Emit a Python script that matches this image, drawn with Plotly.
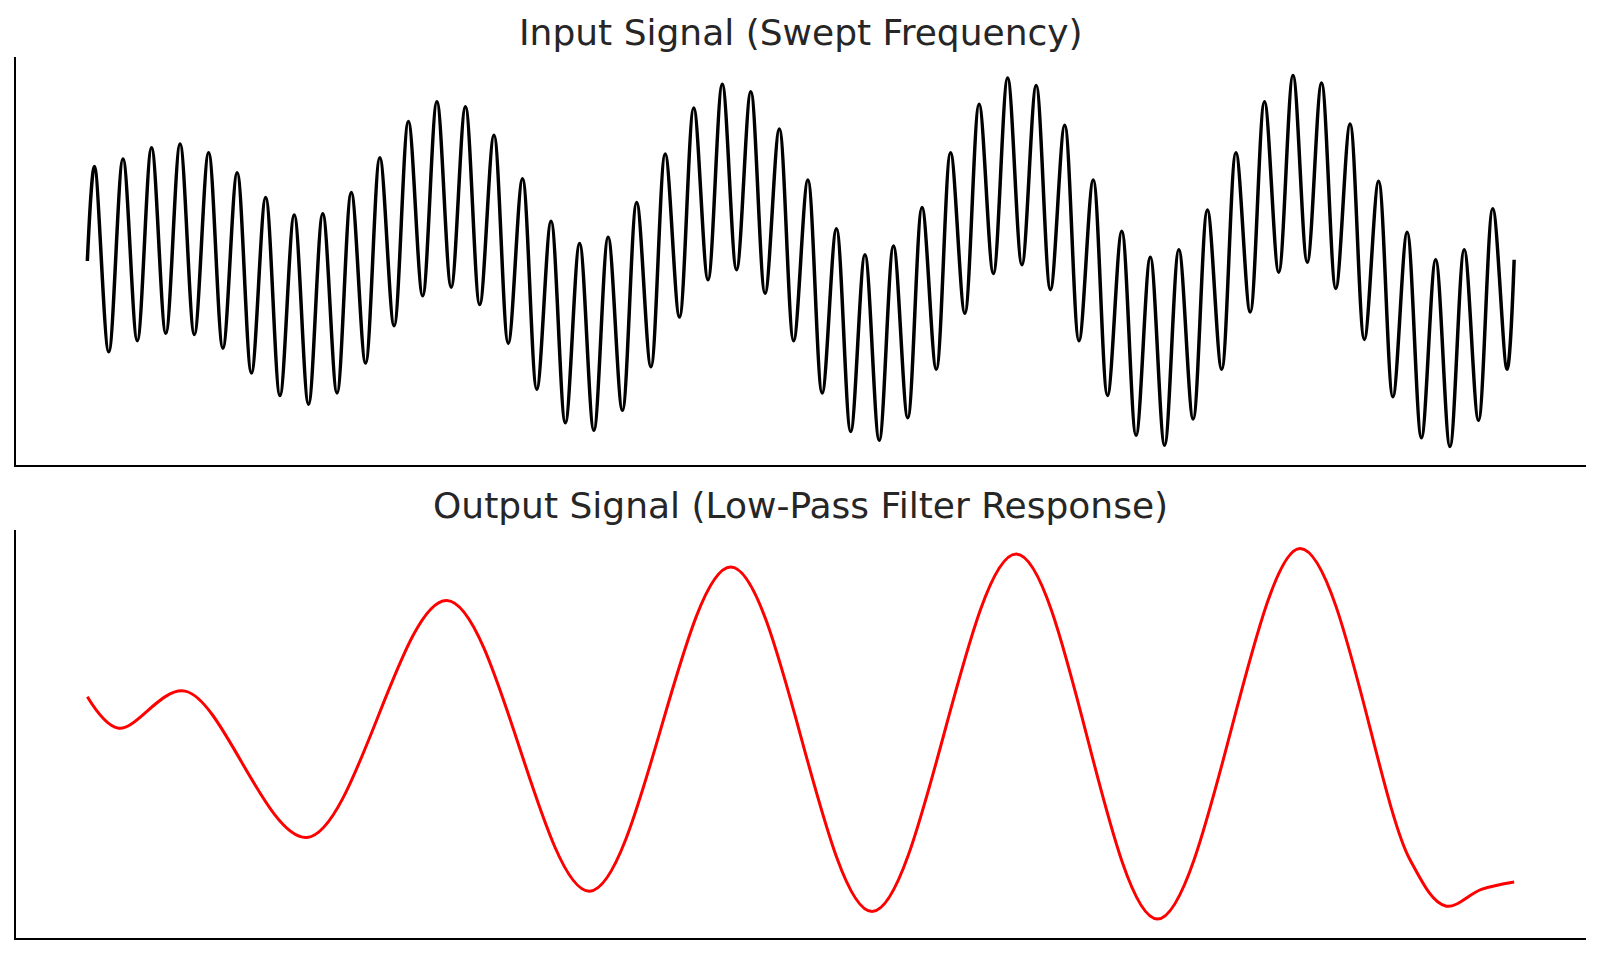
import numpy as np
import plotly.graph_objects as go

# ---- data (time in s, amplitude in arbitrary units) ----
input_time = [
    0.000,
    0.005, 0.015, 0.025, 0.035, 0.045, 0.055, 0.065, 0.075, 0.085, 0.095,
    0.105, 0.115, 0.125, 0.135, 0.145, 0.155, 0.165, 0.175, 0.185, 0.195,
    0.205, 0.215, 0.225, 0.235, 0.245, 0.255, 0.265, 0.275, 0.285, 0.295,
    0.305, 0.315, 0.325, 0.335, 0.345, 0.355, 0.365, 0.375, 0.385, 0.395,
    0.405, 0.415, 0.425, 0.435, 0.445, 0.455, 0.465, 0.475, 0.485, 0.495,
    0.505, 0.515, 0.525, 0.535, 0.545, 0.555, 0.565, 0.575, 0.585, 0.595,
    0.605, 0.615, 0.625, 0.635, 0.645, 0.655, 0.665, 0.675, 0.685, 0.695,
    0.705, 0.715, 0.725, 0.735, 0.745, 0.755, 0.765, 0.775, 0.785, 0.795,
    0.805, 0.815, 0.825, 0.835, 0.845, 0.855, 0.865, 0.875, 0.885, 0.895,
    0.905, 0.915, 0.925, 0.935, 0.945, 0.955, 0.965, 0.975, 0.985, 0.995,
    1.000,
]
input_signal = [
    0.00,
    0.76, -0.73, 0.82, -0.64, 0.91, -0.58, 0.94, -0.59, 0.87, -0.70,
    0.71, -0.90, 0.51, -1.08, 0.37, -1.15, 0.38, -1.06, 0.55, -0.82,
    0.83, -0.52, 1.12, -0.28, 1.28, -0.21, 1.24, -0.35, 1.01, -0.66,
    0.66, -1.03, 0.32, -1.30, 0.14, -1.36, 0.19, -1.20, 0.47, -0.85,
    0.86, -0.45, 1.23, -0.15, 1.42, -0.07, 1.36, -0.26, 1.06, -0.64,
    0.65, -1.06, 0.26, -1.37, 0.05, -1.44, 0.12, -1.26, 0.43, -0.87,
    0.87, -0.42, 1.26, -0.10, 1.47, -0.03, 1.41, -0.23, 1.09, -0.64,
    0.65, -1.08, 0.24, -1.40, 0.03, -1.48, 0.09, -1.27, 0.41, -0.87,
    0.87, -0.41, 1.28, -0.09, 1.49, -0.01, 1.43, -0.22, 1.10, -0.63,
    0.64, -1.09, 0.23, -1.42, 0.01, -1.49, 0.09, -1.28, 0.42, -0.87,
    0.01,
]

output_time = [0.000, 0.022, 0.0685, 0.154, 0.252, 0.352, 0.451,
               0.550, 0.651, 0.750, 0.850, 0.927, 0.952, 0.977, 1.000]
output_signal = [0.20, 0.03, 0.23, -0.56, 0.72, -0.85, 0.90,
                 -0.96, 0.97, -1.00, 1.00, -0.68, -0.93, -0.84, -0.80]

titles = ["Input Signal (Swept Frequency)", "Output Signal (Low-Pass Filter Response)"]

W, H = 1600, 954
FONT = "DejaVu Sans"
TITLE_COLOR = "#262626"


def pad_range(vals, frac=0.05):
    lo, hi = float(np.min(vals)), float(np.max(vals))
    span = hi - lo
    return [lo - frac * span, hi + frac * span]


fig = go.Figure()
fig.add_trace(go.Scatter(x=input_time, y=input_signal, mode="lines",
                         line=dict(color="#000000", width=3.5, shape="spline", smoothing=1.0),
                         xaxis="x", yaxis="y", showlegend=False, hoverinfo="skip"))
fig.add_trace(go.Scatter(x=output_time, y=output_signal, mode="lines",
                         line=dict(color="#ff0000", width=3, shape="spline", smoothing=1.0),
                         xaxis="x2", yaxis="y2", showlegend=False, hoverinfo="skip"))

xdom = [16 / W, 1585.5 / W]
top_dom = [1 - 465 / H, 1 - 57 / H]
bot_dom = [1 - 937.5 / H, 1 - 530 / H]

axis_common = dict(showgrid=False, zeroline=False, showticklabels=False, ticks="",
                   showline=True, linecolor="#000000", linewidth=2)

fig.update_layout(
    width=W, height=H,
    margin=dict(l=0, r=0, t=0, b=0),
    paper_bgcolor="white", plot_bgcolor="white",
    xaxis=dict(domain=xdom, range=pad_range(input_time), anchor="y", **axis_common),
    yaxis=dict(domain=top_dom, range=pad_range(input_signal), anchor="x", **axis_common),
    xaxis2=dict(domain=xdom, range=pad_range(output_time), anchor="y2", **axis_common),
    yaxis2=dict(domain=bot_dom, range=pad_range([-1.00, 1.00]), anchor="x2", **axis_common),
    annotations=[
        dict(text=titles[0], xref="paper", yref="paper", x=(xdom[0] + xdom[1]) / 2,
             y=top_dom[1] + 2 / H, xanchor="center", yanchor="bottom", showarrow=False,
             font=dict(family=FONT, size=36, color=TITLE_COLOR)),
        dict(text=titles[1], xref="paper", yref="paper", x=(xdom[0] + xdom[1]) / 2,
             y=bot_dom[1] + 2 / H, xanchor="center", yanchor="bottom", showarrow=False,
             font=dict(family=FONT, size=36, color=TITLE_COLOR)),
    ],
)

fig.write_html("out.html")
